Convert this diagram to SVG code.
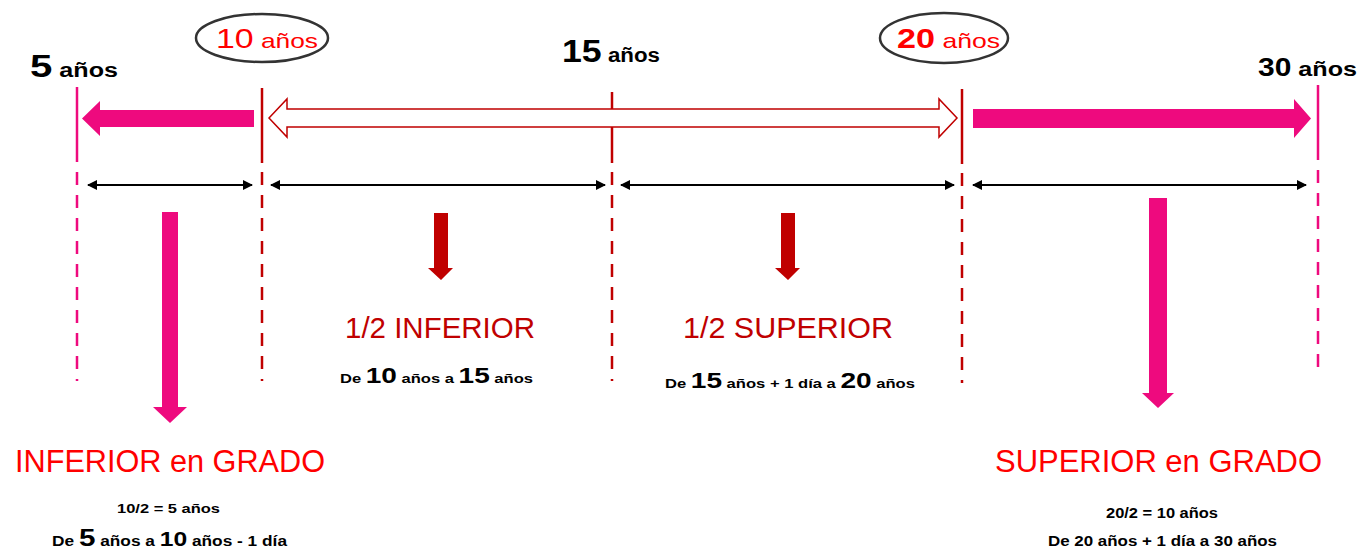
<svg xmlns="http://www.w3.org/2000/svg" width="1357" height="550" viewBox="0 0 1357 550">
<style>
.pink{stroke:#EE0A7E;stroke-width:2.5;fill:none}
.red{stroke:#C00000;stroke-width:2.5;fill:none}
.dash{stroke-dasharray:13 10}
.blk{stroke:#000;stroke-width:2;fill:none;marker-start:url(#ah);marker-end:url(#ah)}
.lbl{font-family:"Liberation Sans",Arial,sans-serif;font-weight:bold;fill:#000}
.redlbl{font-family:"Liberation Sans",Arial,sans-serif;fill:#FF0000}
.dred{font-family:"Liberation Sans",Arial,sans-serif;fill:#C00000}
.note{font-family:"Liberation Sans",Arial,sans-serif;font-weight:bold;fill:#000}
</style>
<defs>
<marker id="ah" viewBox="0 0 10 10" refX="9" refY="5" markerWidth="5" markerHeight="5" orient="auto-start-reverse" markerUnits="strokeWidth">
<path d="M0,0 L10,5 L0,10 Z" fill="#000"/>
</marker>
</defs>
<rect width="1357" height="550" fill="#fff"/>

<g id="connectors">
<!-- vertical markers -->
<line class="pink" x1="77" y1="87" x2="77" y2="162"/>
<line class="pink dash" x1="77" y1="172" x2="77" y2="381"/>
<line class="red" x1="262" y1="88" x2="262" y2="163"/>
<line class="red dash" x1="262" y1="172" x2="262" y2="381"/>
<line class="red" x1="612" y1="92" x2="612" y2="163"/>
<line class="red dash" x1="612" y1="172" x2="612" y2="381"/>
<line class="red" x1="962" y1="89" x2="962" y2="164"/>
<line class="red dash" x1="962" y1="173" x2="962" y2="383"/>
<line class="pink" x1="1318" y1="85" x2="1318" y2="160"/>
<line class="pink dash" x1="1318" y1="170" x2="1318" y2="377"/>

<!-- big arrows -->
<polygon points="82,118.5 100,101 100,110 254,110 254,127 100,127 100,136" fill="#EE0A7E"/>
<polygon points="269,118 287,99 287,109 939,109 939,99 957,118 939,137 939,127 287,127 287,137" fill="#fff" stroke="#C00000" stroke-width="1.5"/>
<polygon points="973,109 1294,109 1294,99 1311,118.5 1294,138 1294,128 973,128" fill="#EE0A7E"/>

<!-- black range arrows -->
<line class="blk" x1="88" y1="185" x2="252" y2="185"/>
<line class="blk" x1="271" y1="185" x2="605" y2="185"/>
<line class="blk" x1="621" y1="185" x2="954" y2="185"/>
<line class="blk" x1="973" y1="185" x2="1306" y2="185"/>

<!-- down arrows -->
<polygon points="162,212 178,212 178,407 187,407 170,423 153,407 162,407" fill="#EE0A7E"/>
<polygon points="1149,198 1167,198 1167,393 1174,393 1158,408 1142,393 1149,393" fill="#EE0A7E"/>
<polygon points="434,213 448,213 448,268 453,268 441,280 428,268 434,268" fill="#C00000"/>
<polygon points="781,213 795,213 795,268 800,268 788,280 775,268 781,268" fill="#C00000"/>
</g>

<g id="n5">
<text class="lbl" x="30" y="77" textLength="88" lengthAdjust="spacingAndGlyphs"><tspan font-size="32">5</tspan><tspan font-size="20"> años</tspan></text>
</g>
<g id="n10">
<ellipse cx="262" cy="38" rx="66" ry="24" fill="#fff" stroke="#333" stroke-width="2.5"/>
<text class="redlbl" x="216" y="48" textLength="102" lengthAdjust="spacingAndGlyphs"><tspan font-size="27">10</tspan><tspan font-size="21"> años</tspan></text>
</g>
<g id="n15">
<text class="lbl" x="562" y="62" textLength="98" lengthAdjust="spacingAndGlyphs"><tspan font-size="32">15</tspan><tspan font-size="20"> años</tspan></text>
</g>
<g id="n20">
<ellipse cx="944" cy="38" rx="64" ry="25" fill="#fff" stroke="#333" stroke-width="2.5"/>
<text class="redlbl" x="897" y="48" textLength="103" lengthAdjust="spacingAndGlyphs"><tspan font-size="27" font-weight="bold">20</tspan><tspan font-size="21"> años</tspan></text>
</g>
<g id="n30">
<text class="lbl" x="1258" y="76" textLength="99" lengthAdjust="spacingAndGlyphs"><tspan font-size="25">30</tspan><tspan font-size="21"> años</tspan></text>
</g>

<g id="inferior-mitad">
<text class="dred" x="345" y="338" font-size="29" textLength="190" lengthAdjust="spacingAndGlyphs">1/2 INFERIOR</text>
<text class="note" x="340" y="383" textLength="193" lengthAdjust="spacingAndGlyphs"><tspan font-size="13">De </tspan><tspan font-size="22">10</tspan><tspan font-size="13"> años a </tspan><tspan font-size="22">15</tspan><tspan font-size="13"> años</tspan></text>
</g>
<g id="superior-mitad">
<text class="dred" x="683" y="338" font-size="29" textLength="210" lengthAdjust="spacingAndGlyphs">1/2 SUPERIOR</text>
<text class="note" x="665" y="388" textLength="250" lengthAdjust="spacingAndGlyphs"><tspan font-size="13">De </tspan><tspan font-size="22">15</tspan><tspan font-size="13"> años + 1 día a </tspan><tspan font-size="22">20</tspan><tspan font-size="13"> años</tspan></text>
</g>
<g id="inferior-grado">
<text class="redlbl" x="15" y="472" font-size="31" textLength="310" lengthAdjust="spacingAndGlyphs">INFERIOR en GRADO</text>
<text class="note" x="117" y="513" font-size="13" textLength="103" lengthAdjust="spacingAndGlyphs">10/2 = 5 años</text>
<text class="note" x="52" y="546" textLength="235" lengthAdjust="spacingAndGlyphs"><tspan font-size="14">De </tspan><tspan font-size="24">5</tspan><tspan font-size="14"> años a </tspan><tspan font-size="20">10</tspan><tspan font-size="14"> años - 1 día</tspan></text>
</g>
<g id="superior-grado">
<text class="redlbl" x="995" y="472" font-size="31" textLength="327" lengthAdjust="spacingAndGlyphs">SUPERIOR en GRADO</text>
<text class="note" x="1106" y="518" font-size="14" textLength="112" lengthAdjust="spacingAndGlyphs">20/2 = 10 años</text>
<text class="note" x="1048" y="546" font-size="14" textLength="229" lengthAdjust="spacingAndGlyphs">De 20 años + 1 día a 30 años</text>
</g>
</svg>
